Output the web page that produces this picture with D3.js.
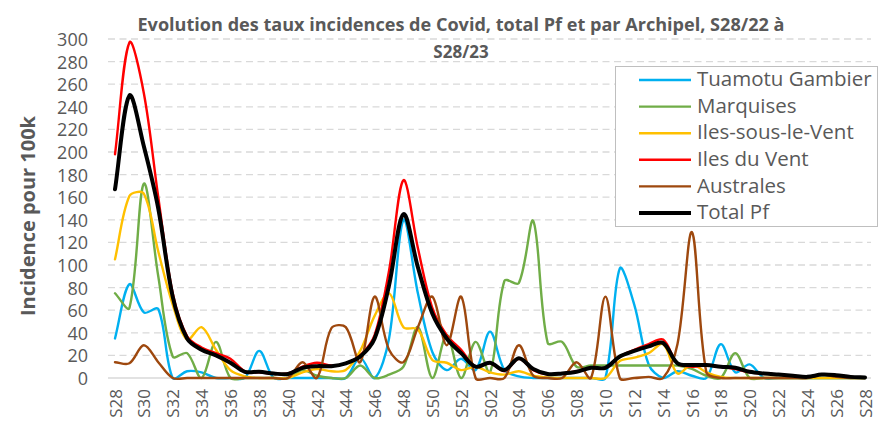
<!DOCTYPE html>
<html><head><meta charset="utf-8">
<script src="https://cdn.jsdelivr.net/npm/d3@7"></script>
<style>
body{margin:0;background:#fff}
svg{display:block}
text{font-family:"Open Sans",sans-serif;fill:#595959}
</style></head>
<body><svg id="c" width="878" height="421"></svg>
<script>
const weeks = ["S28","S29","S30","S31","S32","S33","S34","S35","S36","S37","S38","S39","S40","S41","S42","S43","S44","S45","S46","S47","S48","S49","S50","S51","S52",
  "S01","S02","S03","S04","S05","S06","S07","S08","S09","S10","S11","S12","S13","S14","S15","S16","S17","S18","S19","S20","S21","S22","S23","S24","S25","S26","S27","S28"];
const seriesNames = ["Tuamotu Gambier","Marquises","Iles-sous-le-Vent","Iles du Vent","Australes","Total Pf"];
const tuamotu = [35,83,58,61,0,6,5,0,0,0,24,0,0,0,0,0,0,18,0,35,140,75,23,7,17,7,41,7,1.5,0,0,0,0,0,0,97,65,12,0,6,2,0,30,5,12,0,0,0,0,0,0,0,0];
const marquises = [75,62,172,90,19,22,0,32,0,0,0,0,0,7,2,0,0,11,0,3,10,45,0,38,0,32,5,86,84,139,31,32,10,11,11,11,11,11,11,11,8,2,0,22,0,0,0,0,0,0,0,0,0];
const ilesSousLeVent = [105,161,163,112,65,34,45,25,7,1.5,0,0,0,5,8,6,7,24,55,75,45,43,16,13.5,7,10,5,3,6,2,0.5,0,0,0,0,15,18,22,30,4,12,5,1,0,0,0,0,0,0,0,0,0,0];
const ilesDuVent = [198,297,252,160,75,37,27,22,17,6,5,4,4,10,13.5,11,13,20,38,95,175,115,62,38,25,10,13,6,17,7,3,4,6,9,9,19,25,30,34,13,10,11,10,8,5,4,3,2,1,3,2.5,1,0.5];
const australes = [14,13,29,14,0,0,0,0,0,0,0,0,0,14,0,44,45,14,72,25,14,45,72,29,72,0,0,0,29,2,0,0,14,0,72,0,0,1,0,30,129,5,0,0,0,0,0,0,0,3,1,0,0];
const totalPf = [167,250,205,150,72,35,25,20,13.5,5.5,5.5,4,3.5,9,10.5,10.5,13,19,35,82,145,98,57,35,22,10,13.5,7,17.5,8,3.5,4,5.5,9,9,19,24,28,31,13,11.5,11.5,10,9,5.5,4,3,2,1,3,2.5,1,0.5];
const yTicks = [0,20,40,60,80,100,120,140,160,180,200,220,240,260,280,300];
const colors = ["#00b0f0","#70ad47","#ffc000","#ff0000","#9e480e","#000000"];

const allSeries = [tuamotu, marquises, ilesSousLeVent, ilesDuVent, australes, totalPf];
const svg = d3.select("#c");
const x = d3.scalePoint().domain(d3.range(weeks.length)).range([115, 865]);
const y = d3.scaleLinear().domain([0, 300]).range([378, 39]);

// Excel-like smoothed curve (Bezier, tension weighted by segment lengths)
function ExcelSmooth(context) { this._context = context; }
ExcelSmooth.prototype = {
  areaStart() { this._line = 0; }, areaEnd() { this._line = NaN; },
  lineStart() { this._x = []; this._y = []; },
  point(px, py) { this._x.push(+px); this._y.push(+py); },
  lineEnd() {
    const X = this._x, Y = this._y, n = X.length, c = this._context;
    if (!n) return;
    c.moveTo(X[0], Y[0]);
    const dist = (a, b) => Math.hypot(X[b] - X[a], Y[b] - Y[a]);
    const f = 1 / 3;
    for (let i = 0; i < n - 1; i++) {
      const i0 = i > 0 ? i - 1 : i, i1 = i, i2 = i + 1, i3 = i + 2 < n ? i + 2 : i + 1;
      const d01 = dist(i0, i1), d12 = dist(i1, i2), d23 = dist(i2, i3);
      const t1 = (d01 + d12) > 0 ? f * d12 / (d01 + d12) : 0;
      const t2 = (d12 + d23) > 0 ? f * d12 / (d12 + d23) : 0;
      const c1x = X[i1] + t1 * (X[i2] - X[i0]), c1y = Y[i1] + t1 * (Y[i2] - Y[i0]);
      const c2x = X[i2] - t2 * (X[i3] - X[i1]), c2y = Y[i2] - t2 * (Y[i3] - Y[i1]);
      c.bezierCurveTo(c1x, c1y, c2x, c2y, X[i2], Y[i2]);
    }
  }
};
const excelSmooth = ctx => new ExcelSmooth(ctx);

// gridlines
svg.append("g").selectAll("line").data(yTicks).join("line")
  .attr("x1", 108).attr("x2", 871)
  .attr("y1", d => y(d)).attr("y2", d => y(d))
  .attr("stroke", "#d9d9d9").attr("stroke-width", 1.3)
  .attr("stroke-dasharray", d => d === 0 ? null : "7,4.5");

// y axis
const yAxis = svg.append("g").attr("transform", "translate(98,0)")
  .call(d3.axisLeft(y).tickValues(yTicks).tickSize(0).tickPadding(0));
yAxis.select(".domain").remove();
yAxis.selectAll("text").attr("x", -10).attr("dy", "0.36em")
  .style("font-size", "18px").style("font-family", "'Open Sans',sans-serif").style("fill", "#595959");

// x axis
const xAxis = svg.append("g").attr("transform", "translate(0,378)")
  .call(d3.axisBottom(x).tickValues(d3.range(0, weeks.length, 2)).tickFormat(i => weeks[i]).tickSize(0));
xAxis.select(".domain").remove();
xAxis.selectAll("text")
  .attr("transform", "rotate(-90)").attr("y", 0).attr("x", -11).attr("dy", "0.36em")
  .attr("text-anchor", "end")
  .style("font-size", "17px").style("font-family", "'Open Sans',sans-serif").style("fill", "#595959");

// lines
const line = d3.line().x((d, i) => x(i)).y(d => y(d)).curve(excelSmooth);
svg.append("g").selectAll("path").data(allSeries).join("path")
  .attr("d", d => line(d)).attr("fill", "none")
  .attr("stroke", (d, i) => colors[i])
  .attr("stroke-width", (d, i) => i === 5 ? 4 : 2.4)
  .attr("stroke-linejoin", "round").attr("stroke-linecap", "round");

// title
const title = svg.append("g");
title.append("text").attr("x", 461).attr("y", 31).attr("text-anchor", "middle")
  .style("font-size", "17px").style("font-weight", "bold")
  .attr("textLength", 647).attr("lengthAdjust", "spacingAndGlyphs")
  .text("Evolution des taux incidences de Covid, total  Pf et par Archipel, S28/22 à");
title.append("text").attr("x", 461).attr("y", 58).attr("text-anchor", "middle")
  .style("font-size", "17px").style("font-weight", "bold")
  .text("S28/23");

// y axis title
svg.append("text").attr("transform", "translate(28,216) rotate(-90)")
  .attr("text-anchor", "middle").attr("dy", "0.35em")
  .style("font-size", "20px").style("font-weight", "bold")
  .attr("textLength", 200).attr("lengthAdjust", "spacingAndGlyphs")
  .text("Incidence pour 100k");

// legend
const lg = svg.append("g");
lg.append("rect").attr("x", 615.5).attr("y", 66.5).attr("width", 262).attr("height", 160)
  .attr("fill", "#fff").attr("stroke", "#bfbfbf").attr("stroke-width", 1);
seriesNames.forEach((name, i) => {
  const ry = 80 + i * 26.6;
  lg.append("line").attr("x1", 639).attr("x2", 691).attr("y1", ry).attr("y2", ry)
    .attr("stroke", colors[i]).attr("stroke-width", i === 5 ? 4 : 2.4);
  lg.append("text").attr("x", 697).attr("y", ry - 1).attr("dy", "0.35em")
    .style("font-size", "20.5px").text(name);
});
</script></body></html>
